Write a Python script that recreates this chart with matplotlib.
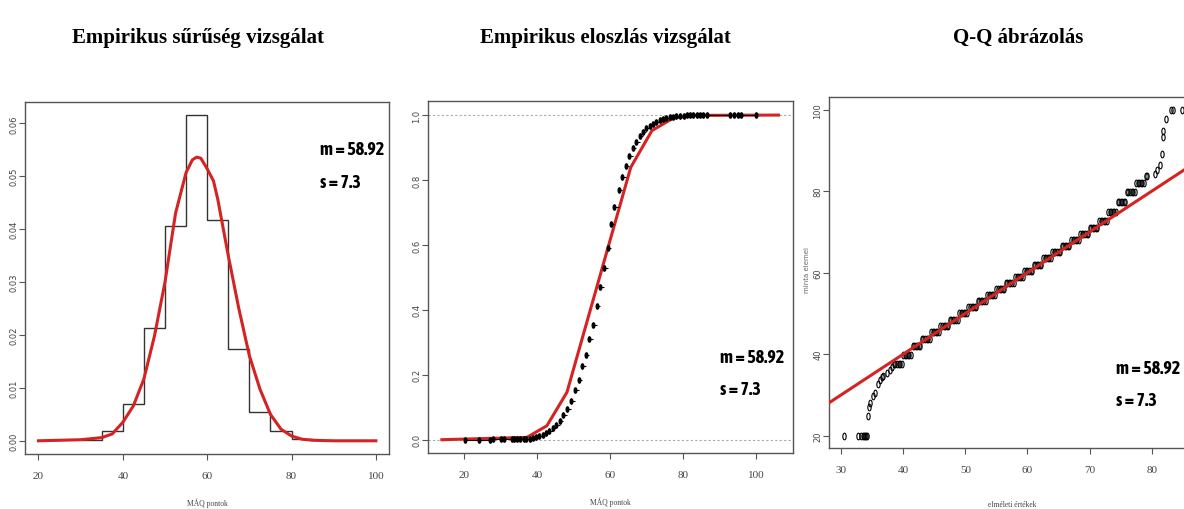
import matplotlib
matplotlib.use('Agg')
import matplotlib.pyplot as plt
import numpy as np
from matplotlib import font_manager

# --- data ---
hist_edges = [30, 35, 40, 45, 50, 55, 60, 65, 70, 75, 80, 85]
hist_heights = [0.0002, 0.0019, 0.0069, 0.0214, 0.0406, 0.0615, 0.0418,
                0.0174, 0.0054, 0.0019, 0.0004]

dens_x = [20, 30, 35, 37.5, 40, 42.5, 45, 47.5, 50, 52.5, 55, 56.5, 57.5,
          58.5, 60, 61.5, 62.5, 65, 67.5, 70, 72.5, 75, 77.5, 80, 82.5, 85, 90, 100]
dens_y = [0, 0.0002, 0.0006, 0.0013, 0.0035, 0.0066, 0.0117, 0.0198, 0.030,
          0.043, 0.0507, 0.0531, 0.0536, 0.0534, 0.0514, 0.0491, 0.0457, 0.035,
          0.025, 0.0161, 0.0098, 0.005, 0.0022, 0.0009, 0.0003, 0.0001, 0, 0]

ecdf_x = [20.2, 24.1, 27.0, 27.8, 30.0, 30.7, 33.0, 33.6, 34.4, 35.1, 36.2,
          36.9, 37.83, 38.76, 39.67, 40.57, 41.5, 42.41, 43.31, 44.25, 45.15,
          46.06, 46.99, 48.08, 49.18, 50.17, 51.27, 52.2, 53.19, 54.2, 55.22,
          56.31, 57.22, 58.31, 59.22, 60.15, 61.06, 62.24, 63.17, 64.17, 65.08,
          66.08, 67.09, 68.0, 68.93, 69.84, 70.75, 71.67, 72.58, 73.48, 74.42,
          75.32, 76.23, 77.16, 78.06, 78.97, 80.07, 81.0, 81.9, 82.8, 83.7,
          84.6, 85.5, 86.5, 92.9, 93.8, 94.9, 95.8, 100.0]
ecdf_f = [0.0002, 0.0003, 0.0005, 0.0006, 0.0008, 0.0009, 0.0011, 0.0012,
          0.0014, 0.0016, 0.0018, 0.002, 0.003, 0.0052, 0.0083, 0.0114, 0.0154,
          0.0206, 0.0268, 0.035, 0.0453, 0.0586, 0.076, 0.0945, 0.118, 0.153,
          0.185, 0.226, 0.261, 0.310, 0.354, 0.411, 0.469, 0.528, 0.590, 0.664,
          0.716, 0.770, 0.808, 0.842, 0.873, 0.897, 0.918, 0.934, 0.947, 0.959,
          0.967, 0.974, 0.979, 0.984, 0.988, 0.991, 0.993, 0.995, 0.997, 0.998,
          0.9985, 0.999, 0.999, 0.999, 0.9995, 0.9995, 0.9995, 0.9995, 0.9997,
          0.9998, 0.9998, 0.9999, 1.0]

cdf_x = [13.8, 37.1, 42.6, 48.1, 65.6, 71.4, 77.3, 83.0, 106.1]
cdf_f = [0, 0.007, 0.043, 0.146, 0.839, 0.952, 0.991, 0.999, 1.0]

# Q-Q points: lower tail, dense stepped band, upper tail
qq_theo = [
    30.4, 32.8, 33.2, 33.5, 33.7, 33.9, 34.0, 34.1, 34.3, 34.56, 34.67,
    35.2, 35.5, 36.0, 36.3, 36.55, 36.8, 37.35, 37.9, 38.25,
    38.5, 38.75, 39.0, 39.25, 39.5, 39.75,
    40.0, 40.25, 40.5, 40.75, 41.0, 41.25,
    41.5, 41.75, 42.0, 42.25, 42.5, 42.75,
    43.0, 43.25, 43.5, 43.75, 44.0, 44.25,
    44.5, 44.75, 45.0, 45.25, 45.5, 45.75,
    46.0, 46.25, 46.5, 46.75, 47.0, 47.25,
    47.5, 47.75, 48.0, 48.25, 48.5, 48.75,
    49.0, 49.25, 49.5, 49.75, 50.0, 50.25,
    50.5, 50.75, 51.0, 51.25, 51.5, 51.75,
    52.0, 52.25, 52.5, 52.75, 53.0, 53.25,
    53.5, 53.75, 54.0, 54.25, 54.5, 54.75,
    55.0, 55.25, 55.5, 55.75, 56.0, 56.25,
    56.5, 56.75, 57.0, 57.25, 57.5, 57.75,
    58.0, 58.25, 58.5, 58.75, 59.0, 59.25,
    59.5, 59.75, 60.0, 60.25, 60.5, 60.75,
    61.0, 61.25, 61.5, 61.75, 62.0, 62.25,
    62.5, 62.75, 63.0, 63.25, 63.5, 63.75,
    64.0, 64.25, 64.5, 64.75, 65.0, 65.25,
    65.5, 65.75, 66.0, 66.25, 66.5, 66.75,
    67.0, 67.25, 67.5, 67.75, 68.0, 68.25,
    68.5, 68.75, 69.0, 69.25, 69.5, 69.75,
    70.0, 70.25, 70.5, 70.75, 71.0, 71.25,
    71.5, 71.75, 72.0, 72.25, 72.5, 72.75,
    73.0, 73.25, 73.5, 73.75, 74.0, 74.25,
    74.5, 74.75, 75.0, 75.25, 75.5, 75.75,
    76.0, 76.25, 76.5, 76.75, 77.0, 77.25,
    77.5, 77.75, 78.0, 78.25, 78.5, 78.75,
    79.0, 79.25,
    80.5, 80.9, 81.3, 81.6, 81.75, 81.85, 82.3, 83.1, 83.4, 84.8]
qq_sample = [
    20, 20, 20, 20, 20, 20, 20, 20, 24.8, 27.0, 28.0,
    29.8, 30.5, 32.7, 33.7, 34.3, 34.7, 35.4, 36.2, 36.8,
    37.6, 37.6, 37.6, 37.6, 37.6, 37.6,
    39.9, 39.9, 39.9, 39.9, 39.9, 39.9,
    41.9, 41.9, 41.9, 41.9, 41.9, 41.9,
    43.7, 43.7, 43.7, 43.7, 43.7, 43.7,
    45.5, 45.5, 45.5, 45.5, 45.5, 45.5,
    47.0, 47.0, 47.0, 47.0, 47.0, 47.0,
    48.5, 48.5, 48.5, 48.5, 48.5, 48.5,
    50.0, 50.0, 50.0, 50.0, 50.0, 50.0,
    51.5, 51.5, 51.5, 51.5, 51.5, 51.5,
    53.0, 53.0, 53.0, 53.0, 53.0, 53.0,
    54.5, 54.5, 54.5, 54.5, 54.5, 54.5,
    56.0, 56.0, 56.0, 56.0, 56.0, 56.0,
    57.5, 57.5, 57.5, 57.5, 57.5, 57.5,
    59.0, 59.0, 59.0, 59.0, 59.0, 59.0,
    60.5, 60.5, 60.5, 60.5, 60.5, 60.5,
    62.0, 62.0, 62.0, 62.0, 62.0, 62.0,
    63.5, 63.5, 63.5, 63.5, 63.5, 63.5,
    65.0, 65.0, 65.0, 65.0, 65.0, 65.0,
    66.5, 66.5, 66.5, 66.5, 66.5, 66.5,
    68.0, 68.0, 68.0, 68.0, 68.0, 68.0,
    69.5, 69.5, 69.5, 69.5, 69.5, 69.5,
    71.0, 71.0, 71.0, 71.0, 71.0, 71.0,
    72.8, 72.8, 72.8, 72.8, 72.8, 72.8,
    74.9, 74.9, 74.9, 74.9, 74.9, 74.9,
    77.3, 77.3, 77.3, 77.3, 77.3, 77.3,
    79.8, 79.8, 79.8, 79.8, 79.8, 79.8,
    82.0, 82.0, 82.0, 82.0, 82.0, 82.0,
    83.7, 83.7,
    84.2, 85.2, 86.5, 89.1, 93.2, 94.8, 97.7, 99.9, 100.0, 99.9]
qq_intercept = 0
qq_slope = 1

titles = ['Empirikus sűrűség vizsgálat', 'Empirikus eloszlás vizsgálat', 'Q-Q ábrázolás']
stat_lines = ['m = 58.92', 's = 7.3']


def as_weight(w):
    if isinstance(w, str):
        return font_manager.weight_dict.get(w, 400)
    return w


# --- fonts: a bold narrow face for the m / s notes if one is installed ---
narrow_bold = [f for f in font_manager.fontManager.ttflist
               if ('Narrow' in f.name or 'Condensed' in f.name) and 'Mono' not in f.name
               and as_weight(f.weight) >= 600 and f.style == 'normal']
if narrow_bold:
    narrow_bold.sort(key=lambda f: (abs(as_weight(f.weight) - 700), f.name))
    stat_fp = font_manager.FontProperties(fname=narrow_bold[0].fname, size=13)
else:
    stat_fp = font_manager.FontProperties(family='Liberation Sans', weight='bold', size=10)

RED = '#d42323'
AX_COL = '#555555'

# squashed dot used in the source picture
t = np.linspace(0, 2 * np.pi, 25)
ell = [(0.5 * np.cos(a), np.sin(a)) for a in t]


def r_axes(ax):
    for s in ax.spines.values():
        s.set_color(AX_COL)
        s.set_linewidth(1.0)
    ax.tick_params(direction='out', length=4, width=0.8, color=AX_COL, labelcolor='#444444')
    ax.tick_params(axis='x', labelsize=8, pad=8)
    ax.tick_params(axis='y', labelsize=6, pad=1, labelrotation=90)
    for lab in ax.get_xticklabels():
        lab.set_family('Liberation Serif')
    for lab in ax.get_yticklabels():
        lab.set_va('center')


def stats(ax, x, y1, y2):
    ax.text(x, y1, stat_lines[0], transform=ax.transAxes, fontproperties=stat_fp,
            ha='left', va='baseline')
    ax.text(x, y2, stat_lines[1], transform=ax.transAxes, fontproperties=stat_fp,
            ha='left', va='baseline')


fig = plt.figure(figsize=(11.84, 5.10), dpi=100)

# panel 1: density
ax1 = fig.add_axes([0.0211, 0.1078, 0.3074, 0.690])
ax1.stairs(hist_heights, hist_edges, color='#333333', lw=1.0, baseline=None)
ax1.plot(dens_x, dens_y, color=RED, lw=2.2)
ax1.set_xlim(16.8, 103.1)
ax1.set_ylim(-0.0025, 0.064)
ax1.set_xticks([20, 40, 60, 80, 100])
ax1.set_yticks([0, 0.01, 0.02, 0.03, 0.04, 0.05, 0.06])
ax1.set_yticklabels(['%.2f' % v for v in ax1.get_yticks()])
r_axes(ax1)
ax1.text(0.5, -0.136, 'MÁQ pontok', transform=ax1.transAxes, ha='center', va='center',
         family='Liberation Serif', fontsize=5.5, color='#444444')
stats(ax1, 0.81, 0.852, 0.759)

# panel 2: ecdf
ax2 = fig.add_axes([0.3615, 0.1098, 0.3083, 0.690])
ax2.axhline(0, color='#aaaaaa', lw=0.8, ls=(0, (2, 2)))
ax2.axhline(1, color='#aaaaaa', lw=0.8, ls=(0, (2, 2)))
ax2.plot(cdf_x, cdf_f, color=RED, lw=2.2)
ex = np.array(ecdf_x)
ef = np.array(ecdf_f)
ax2.hlines(ef[:-1], ex[:-1], ex[1:], color='black', lw=0.8, zorder=3)
ax2.plot(ex, ef, ls='none', marker=ell, ms=3.8, color='black', zorder=4)
ax2.set_xlim(10.0, 110.1)
ax2.set_ylim(-0.041, 1.043)
ax2.set_xticks([20, 40, 60, 80, 100])
ax2.set_yticks([0, 0.2, 0.4, 0.6, 0.8, 1.0])
ax2.set_yticklabels(['%.1f' % v for v in ax2.get_yticks()])
r_axes(ax2)
ax2.text(0.5, -0.136, 'MÁQ pontok', transform=ax2.transAxes, ha='center', va='center',
         family='Liberation Serif', fontsize=5.5, color='#444444')
stats(ax2, 0.80, 0.2585, 0.1676)

# panel 3: Q-Q plot (cropped at the right edge like the source)
ax3 = fig.add_axes([0.7004, 0.119, 0.3089, 0.688])
ax3.axline((0, qq_intercept), slope=qq_slope, color=RED, lw=2.2, zorder=3)
ax3.plot(qq_theo, qq_sample, ls='none', marker=ell, ms=4.8, mfc='none', mec='black',
         mew=0.8, zorder=2)
ax3.set_xlim(28.1, 86.96)
ax3.set_ylim(16.9, 103.0)
ax3.set_xticks([30, 40, 50, 60, 70, 80])
ax3.set_yticks([20, 40, 60, 80, 100])
r_axes(ax3)
ax3.text(0.5, -0.159, 'elméleti értékek', transform=ax3.transAxes, ha='center', va='center',
         family='Liberation Serif', fontsize=5.5, color='#444444')
ax3.text(-0.061, 0.511, 'minta elemei', transform=ax3.transAxes, ha='center', va='center',
         rotation=90, fontsize=5, color='#666666')
stats(ax3, 0.785, 0.2145, 0.123)

# titles
for txt, xc in zip(titles, [198, 605, 1018]):
    fig.text(xc / 1184, 1 - 43 / 510, txt, ha='center', va='baseline',
             family='Liberation Serif', weight='bold', fontsize=15)

fig.savefig('out.png', dpi=100)
